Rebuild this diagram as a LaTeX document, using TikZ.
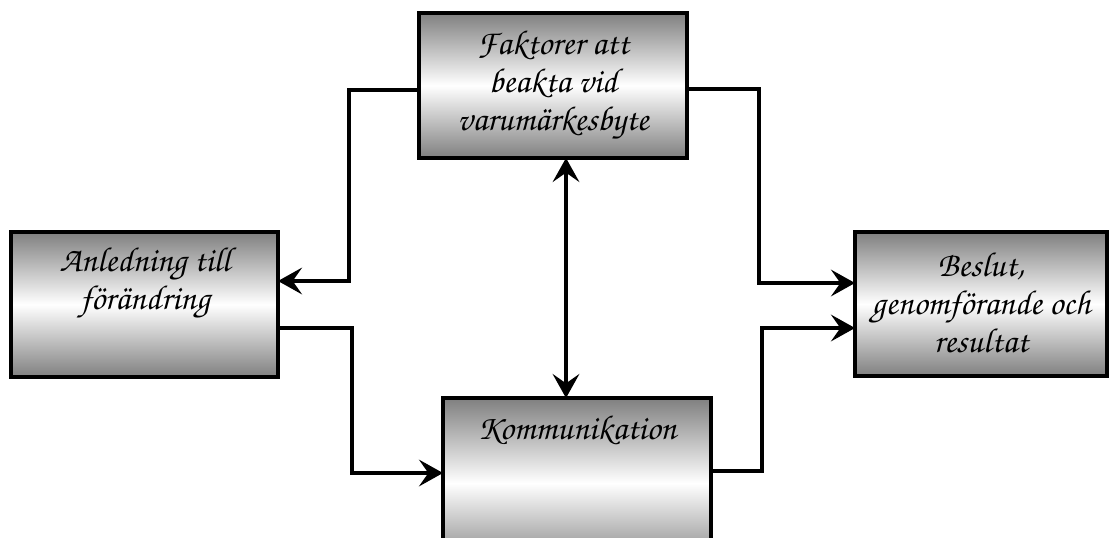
\documentclass[tikz,border=0pt]{standalone}
\usepackage[T1]{fontenc}
\usetikzlibrary{arrows.meta}
\begin{document}
\begin{tikzpicture}[x=0.75pt,y=-0.75pt,
  box/.style={draw=black, line width=2.6pt, rectangle, inner sep=0pt, outer sep=0pt,
    top color=black!50, bottom color=black!50, middle color=white},
  lbl/.style={align=center, font=\fontfamily{pzc}\fontseries{mb}\fontshape{it}\fontsize{26}{28.5}\selectfont},
  conn/.style={line width=2.4pt, line join=miter},
  tip/.tip={Stealth[length=18pt,width=20pt,inset=7pt]},
  arr/.style={conn, -tip},
  darr/.style={conn, tip-tip}]
\useasboundingbox (0,0) rectangle (1110,537);
\clip (0,0) rectangle (1110,537);

% boxes
\node[box, minimum width=201pt, minimum height=108.75pt] (top) at (553,85.5) {};
\node[box, minimum width=200.25pt, minimum height=108.75pt] (left) at (144.5,304.5) {};
\node[box, minimum width=189pt, minimum height=108pt] (right) at (981,304) {};
\node[box, minimum width=201pt, minimum height=127.5pt] (bot) at (577,483) {};

% box texts
\node[lbl] (toptxt) at (553,85) {Faktorer att\\beakta vid\\varum\"arkesbyte};
\node[lbl] (lefttxt) at (145,283) {Anledning till\\f\"or\"andring};
\node[lbl] (righttxt) at (981,302) {Beslut,\\genomf\"orande och\\resultat};
\node[lbl] (bottxt) at (577,430) {Kommunikation};

% bend points of the connectors
\coordinate (c1) at (349,90);
\coordinate (c2) at (349,281);
\coordinate (c3) at (352,328);
\coordinate (c4) at (352,473);
\coordinate (c5) at (759,89);
\coordinate (c6) at (759,283);
\coordinate (c7) at (762,471);
\coordinate (c8) at (762,328);
\coordinate (mid) at (566,0);

% connectors
\draw[arr] (top.west |- c1) -- (c1) -- (c2) -- (left.east |- c2);
\draw[arr] (left.east |- c3) -- (c3) -- (c4) -- (bot.west |- c4);
\draw[arr] (top.east |- c5) -- (c5) -- (c6) -- (right.west |- c6);
\draw[arr] (bot.east |- c7) -- (c7) -- (c8) -- (right.west |- c8);
\draw[darr] (top.south -| mid) -- (bot.north -| mid);
\end{tikzpicture}
\end{document}
